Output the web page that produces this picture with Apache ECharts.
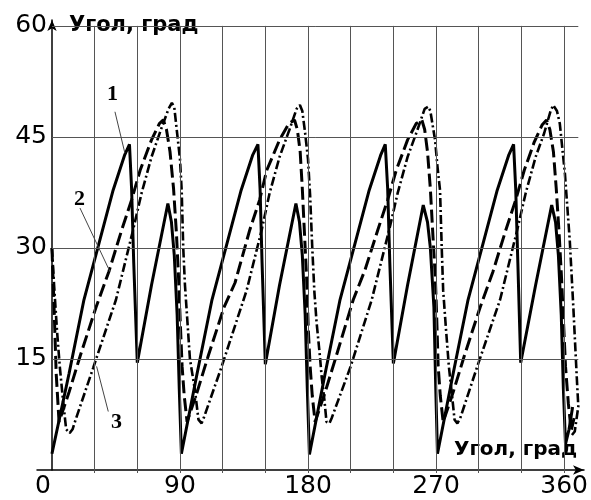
<!DOCTYPE html>
<html>
<head>
<meta charset="utf-8">
<script src="https://cdn.jsdelivr.net/npm/echarts@6/dist/echarts.min.js"></script>
<style>html,body{margin:0;padding:0;background:#fff}#c{width:591px;height:500px}</style>
</head>
<body>
<div id="c"></div>
<script>
// Tick labels
const xTickLabels = [0, 90, 180, 270, 360];
const yTickLabels = [15, 30, 45, 60];
// Grid line positions (degrees / values)
const gridX = [30, 60, 90, 120, 150, 180, 210, 240, 270, 300, 330, 360];
const gridY = [15, 30, 45, 60];

// Curve 1 (solid) [angle, value]
const curve1 = [
  [0,2.2],[12,13],[22.5,23],[32.5,30.2],[43,37.8],[51,42.5],[54.5,44],[56,38],[57.5,28],[60,14.5],[70,25],[81.5,36],[84,33.5],[86,29],[88,21],[89.5,11],[91,2.2],
  [102,13],[112.5,23],[122.5,30.2],[133,37.8],[141,42.5],[144.8,44],[146.3,38],[147.7,28],[150,14.3],[160,25],[171.5,36],[174,33.5],[176,29],[178,21],[179.5,11],[181,2.1],
  [192,13],[202.5,23],[212.5,30.2],[223,37.8],[231,42.5],[234.3,44],[236,38],[237.5,28],[240,14.4],[250,25],[261,35.8],[264,33.5],[266,30],[268.5,22],[269.8,11],[271,2.2],
  [282,13],[292.5,23],[302.5,30.2],[313,37.8],[321,42.5],[324.5,44],[326,38],[327.5,28],[329.5,14.5],[340,25],[351.3,35.8],[354,33.5],[356,29],[358,21],[359.5,11],[361,3.5],[363.5,5.5],[366,8.5]
];

// Curve 2 (dashed)
const curve2 = [
  [0,30],[1.5,22],[3,13],[5,6.5],
  [12,10.5],[20,15.5],[31,22],[40,26.8],[49,32.4],[56,36.5],[62,40.5],[70,44.6],[75.5,46.8],[78.3,47.3],[80.5,46],[83,43],[85.5,38],[87.5,32],[89,26],[90.2,20],[91.5,14],[93,10],[95,6.5],
  [102,10.5],[110,15.5],[121,22],[128.7,25.3],[139,32.4],[146,36.5],[151,40.5],[160,44.6],[166.5,46.8],[170.5,47.3],[172.5,46],[174.5,43],[176,38],[177.5,32],[179,26],[180.2,19],[181.5,14],[183,10],[185,6.5],
  [192,10.5],[200,15.5],[211.8,23],[220,27],[229,32.4],[236,36.5],[242,40.5],[250,44.6],[256,46.8],[260,47.3],[262,46],[264,43],[266,38],[268,31],[269.5,26],[270.4,21],[271.5,14],[273,10],[275,6.5],
  [282,10.5],[290,15.5],[301,22],[310,26.8],[319,32.4],[326,36.5],[332,40.5],[339,44.3],[344.5,46.6],[347.7,47.3],[350,46],[352.5,43],[354.5,38],[356.5,32],[358.2,26],[359.6,20],[361,14],[363,9],[365,5.3],[367,7]
];

// Curve 3 (dash-dot)
const curve3 = [
  [0,30],[1.5,25],[3.5,19],[5.5,14],[8,9],[10,5.5],[12.5,5],[14.5,5.5],[17,7],
  [29,13.8],[45,23],[57,32.4],[63,37.4],[70,42.3],[77,46.2],[82,48.8],[84.3,49.6],[86,49],[88,45.5],[90,42],[91.2,37.8],[92.3,30],[93.5,25],[97,15],[100.5,10.8],[103,6.8],[105.2,6.3],[107,7.2],
  [119,13.8],[136.9,24.3],[147.4,32.4],[153,37.4],[160,42.3],[167,46],[172,48.8],[174.3,49.3],[176,48.5],[178,45.5],[180,42],[181.5,37],[183,30],[184.5,24],[186,20],[188.4,15.3],[189.6,12.6],[191.5,9.5],[193,6.5],[195,6.3],[196.6,7],
  [210,14],[224.8,23],[237,32.4],[243,37.4],[250,42.3],[257,46],[262,48.8],[264.6,49.1],[266,48.5],[269.3,44.6],[271,41],[272.8,37.8],[274,30],[275,24.3],[277,19],[279,14],[281,10.5],[283,6.8],[285,6.3],[287,7],
  [299,14],[315,23],[327,32.4],[333,37.4],[340,42.3],[346,45.5],[350.5,48.5],[352.4,49.3],[355,48.5],[357,46.8],[360.6,40],[364,31],[366.5,22],[368.9,12.6],[370,8.6],[367.5,5.2],[365,4.6]
];

// Series callouts: label text, label position, leader line start / end
const calloutText = ['1', '2', '3'];
const calloutPos = [[42.5, 50.7], [19.3, 36.6], [45.3, 6.5]];
const leaderFrom = [[44.3, 48.4], [19.7, 35.4], [39.6, 7.9]];
const leaderTo = [[51.3, 42.8], [40.8, 26.8], [31.4, 14.0]];

const chart = echarts.init(document.getElementById('c'), null, {renderer: 'canvas'});

const gridLineData = [];
gridX.forEach(x => gridLineData.push([{coord: [x, 0]}, {coord: [x, 60]}]));
gridY.forEach(y => gridLineData.push([{coord: [0, y]}, {coord: [370, y]}]));

const leaderData = calloutText.map((t, i) => [{coord: leaderFrom[i]}, {coord: leaderTo[i]}]);
const calloutData = calloutText.map((t, i) => ({
  coord: calloutPos[i],
  label: {formatter: t}
}));

const numFont = 'DejaVu Sans';

chart.setOption({
  animation: false,
  backgroundColor: '#fff',
  grid: {left: 37, right: 7, top: 20, bottom: 30, containLabel: false},
  xAxis: {
    type: 'value', min: -10.5, max: 374, z: 2,
    splitLine: {show: false},
    axisLine: {show: true, onZero: true, symbol: ['none', 'arrow'], symbolSize: [7, 11],
      lineStyle: {color: '#000', width: 1.5}},
    axisTick: {show: true, customValues: gridX, length: 3, lineStyle: {color: '#555', width: 1}},
    axisLabel: {
      show: true, customValues: xTickLabels, margin: 4,
      fontFamily: numFont, fontSize: 25, color: '#000',
      formatter: v => v === 0 ? '{z|0}' : String(v),
      rich: {z: {fontFamily: numFont, fontSize: 25, color: '#000', padding: [0, 18, 0, 0]}}
    },
    name: '{t|Угол, град}',
    nameLocation: 'end', nameGap: -132,
    nameTextStyle: {align: 'left', verticalAlign: 'bottom', padding: [0, 0, 8, 0],
      rich: {t: {fontFamily: 'DejaVu Sans', fontWeight: 'bold', fontSize: 20, color: '#000',
        backgroundColor: '#fff', padding: [3, 2, 2, 2]}}}
  },
  yAxis: {
    type: 'value', min: 0, max: 60.8, z: 2, offset: -15,
    splitLine: {show: false},
    axisLine: {show: true, onZero: false, symbol: ['none', 'arrow'], symbolSize: [7, 11],
      lineStyle: {color: '#000', width: 1.5}},
    axisTick: {show: false},
    axisLabel: {show: true, customValues: yTickLabels, margin: 5,
      fontFamily: numFont, fontSize: 25, color: '#000'},
    name: '{t|Угол, град}',
    nameLocation: 'end', nameGap: -6,
    nameTextStyle: {align: 'left', verticalAlign: 'middle', padding: [0, 0, 0, 3],
      rich: {t: {fontFamily: 'DejaVu Sans', fontWeight: 'bold', fontSize: 21, color: '#000',
        backgroundColor: '#fff', padding: [10, 10, 10, 14]}}}
  },
  series: [
    {
      name: 'grid', type: 'line', data: [], z: 1, silent: true,
      markLine: {silent: true, symbol: ['none', 'none'], animation: false,
        lineStyle: {color: '#555', width: 1, type: 'solid'},
        label: {show: false}, emphasis: {disabled: true},
        data: gridLineData}
    },
    {
      name: '1', type: 'line', data: curve1, z: 3, showSymbol: false, symbol: 'none',
      lineStyle: {color: '#000', width: 3, type: 'solid'}
    },
    {
      name: '2', type: 'line', data: curve2, z: 3, showSymbol: false, symbol: 'none',
      lineStyle: {color: '#000', width: 3, type: [13, 5]}
    },
    {
      name: '3', type: 'line', data: curve3, z: 3, showSymbol: false, symbol: 'none',
      lineStyle: {color: '#000', width: 2.6, type: [9, 3, 2, 3]}
    },
    {
      name: 'callouts', type: 'line', data: [], z: 4, silent: true,
      markLine: {silent: true, symbol: ['none', 'none'], animation: false,
        lineStyle: {color: '#444', width: 1, type: 'solid'},
        label: {show: false}, emphasis: {disabled: true},
        data: leaderData},
      markPoint: {silent: true, symbol: 'circle', symbolSize: 0, animation: false,
        label: {show: true, position: 'inside', fontFamily: 'Liberation Serif', fontWeight: 'bold',
          fontSize: 22, color: '#000'},
        data: calloutData}
    }
  ]
});
</script>
</body>
</html>
